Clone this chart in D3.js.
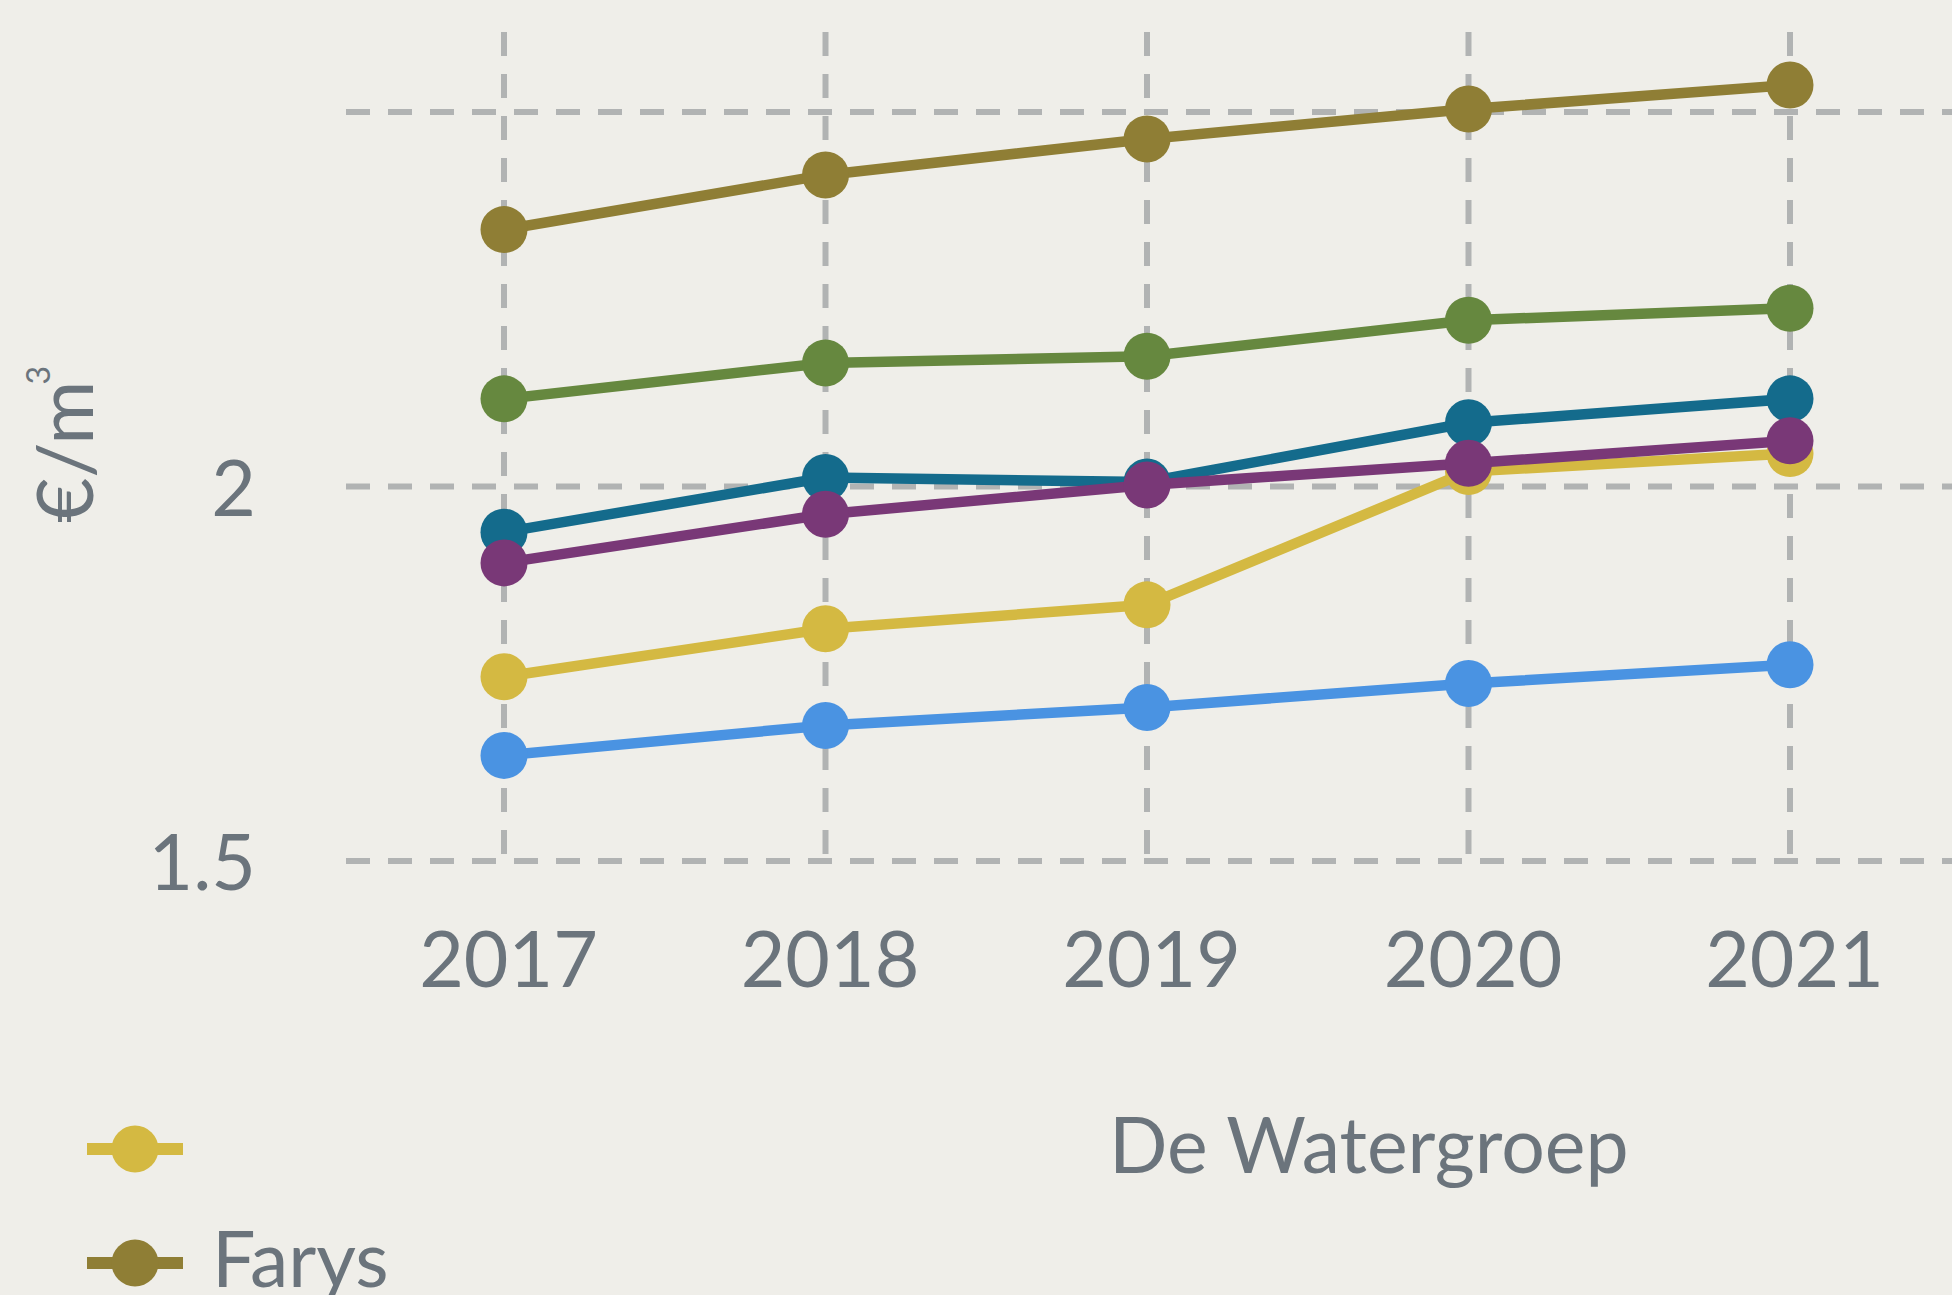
<!DOCTYPE html>
<html>
<head>
<meta charset="utf-8">
<script src="https://cdn.jsdelivr.net/npm/d3@7"></script>
<style>
  html, body { margin: 0; padding: 0; background: #efeee9; }
  svg { display: block; font-family: Lato, "Open Sans", sans-serif; }
</style>
</head>
<body>
<svg></svg>
<script>
// years on the x axis
let years = [2017, 2018, 2019, 2020, 2021];
// y axis ticks (grid) and the ones that carry a label
let gridTicks = [1.5, 2, 2.5];
let labelTicks = [1.5, 2];

// series values (euro per m3)
let deWatergroep = [1.746, 1.810, 1.842, 2.020, 2.044];
let farys = [2.343, 2.416, 2.464, 2.504, 2.536];
let series3 = [2.117, 2.165, 2.174, 2.222, 2.238];
let series4 = [1.641, 1.681, 1.705, 1.737, 1.762];
let series5 = [1.939, 2.012, 2.006, 2.085, 2.117];
let series6 = [1.898, 1.963, 2.002, 2.031, 2.061];

// drawing order, last one on top
let seriesNames = ["De Watergroep", "Farys", "", "", "", ""];
let seriesValues = [deWatergroep, farys, series3, series4, series5, series6];
let seriesColors = ["#d4b942", "#8f7e35", "#66883f", "#4a93e2", "#146b8c", "#793877"];
// only the first two legend rows are visible
let legendItems = [0, 1];

let width = 1952, height = 1295;
let textColor = "#6b747c";
let gridColor = "#b1b3b3";
let fontSize = 77;

let svg = d3.select("svg").attr("width", width).attr("height", height);
svg.append("rect").attr("width", width).attr("height", height).attr("fill", "#efeee9");

let x = d3.scalePoint().domain(years).range([504, 1790]);
let y = d3.scaleLinear().domain([1.5, 2.5]).range([861, 112]);

let gridTop = 32, gridLeft = 346;

// horizontal grid
svg.append("g").selectAll("line").data(gridTicks).join("line")
    .attr("x1", gridLeft).attr("x2", width)
    .attr("y1", d => y(d)).attr("y2", d => y(d))
    .attr("stroke", gridColor).attr("stroke-width", 6)
    .attr("stroke-dasharray", "24,18");

// vertical grid
svg.append("g").selectAll("line").data(years).join("line")
    .attr("x1", d => x(d)).attr("x2", d => x(d))
    .attr("y1", gridTop).attr("y2", y(1.5))
    .attr("stroke", gridColor).attr("stroke-width", 6)
    .attr("stroke-dasharray", "24,18");

// y axis labels
let yAxis = svg.append("g").attr("transform", "translate(" + gridLeft + ",0)")
    .call(d3.axisLeft(y).tickValues(labelTicks).tickSize(0).tickPadding(90)
        .tickFormat(d => String(d)));
yAxis.select(".domain").remove();
yAxis.selectAll("text").attr("fill", textColor).attr("font-size", fontSize)
    .attr("font-family", "Lato").attr("dy", "0.37em");

// x axis labels
let xAxis = svg.append("g").attr("transform", "translate(4," + y(1.5) + ")")
    .call(d3.axisBottom(x).tickSize(0).tickPadding(71));
xAxis.select(".domain").remove();
xAxis.selectAll("text").attr("fill", textColor).attr("font-size", fontSize)
    .attr("font-family", "Lato");

// y axis title
let yTitle = svg.append("text")
    .attr("transform", "translate(93,523) rotate(-90)")
    .attr("fill", textColor).attr("font-size", 78);
yTitle.append("tspan").text("€/m");
yTitle.append("tspan").attr("font-size", 32).attr("dx", -4).attr("dy", -43).text("3");

// lines and points
let line = d3.line()
    .x((d, i) => x(years[i]))
    .y(d => y(d))
    .curve(d3.curveLinear);

seriesValues.forEach(function (values, s) {
    let g = svg.append("g");
    g.append("path").attr("d", line(values))
        .attr("fill", "none").attr("stroke", seriesColors[s]).attr("stroke-width", 10.5);
    g.selectAll("circle").data(values).join("circle")
        .attr("cx", (d, i) => x(years[i])).attr("cy", d => y(d)).attr("r", 23.5)
        .attr("fill", seriesColors[s]);
});

// legend
let legendRows = [
    { cy: 1149, textX: 1109 },
    { cy: 1263, textX: 212 }
];
legendItems.forEach(function (s, k) {
    let row = legendRows[k];
    let g = svg.append("g");
    g.append("line").attr("x1", 87).attr("x2", 183).attr("y1", row.cy).attr("y2", row.cy)
        .attr("stroke", seriesColors[s]).attr("stroke-width", 12);
    g.append("circle").attr("cx", 135).attr("cy", row.cy).attr("r", 23.5)
        .attr("fill", seriesColors[s]);
    g.append("text").attr("x", row.textX).attr("y", row.cy + 24)
        .attr("fill", textColor).attr("font-size", fontSize).text(seriesNames[s]);
});
</script>
</body>
</html>
